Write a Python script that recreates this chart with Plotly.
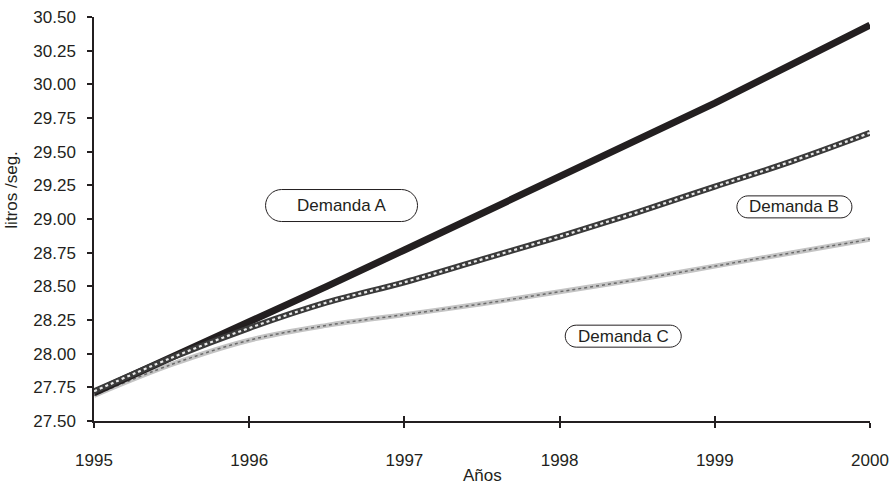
import plotly.graph_objects as go

years = [1995, 1995.5, 1996, 1996.5, 1997, 1997.5, 1998, 1998.5, 1999, 1999.5, 2000]
demanda_a = [27.71, 27.97, 28.23, 28.50, 28.77, 29.04, 29.31, 29.58, 29.86, 30.15, 30.44]
demanda_b = [27.72, 27.97, 28.19, 28.38, 28.53, 28.70, 28.87, 29.05, 29.24, 29.43, 29.64]
demanda_c = [27.69, 27.92, 28.10, 28.21, 28.29, 28.37, 28.46, 28.55, 28.65, 28.75, 28.85]
x_ticks = [1995, 1996, 1997, 1998, 1999, 2000]
y_ticks = [27.5 + 0.25 * i for i in range(13)]
labels = ["Demanda A", "Demanda B", "Demanda C"]
label_x = [1996.595, 1999.513, 1998.41]
label_y = [29.10, 29.09, 28.13]
label_w = [152, 115, 116]
label_h = [32, 22, 22]

FONT = "Liberation Sans, Arial, sans-serif"
INK = "#231f20"
FS = 17

fig = go.Figure()
# Demanda C (light gray dotted texture)
fig.add_trace(go.Scatter(x=years, y=demanda_c, mode="lines", line_shape="spline",
                         line=dict(color="#c4c4c4", width=5), showlegend=False, hoverinfo="skip"))
fig.add_trace(go.Scatter(x=years, y=demanda_c, mode="lines", line_shape="spline",
                         line=dict(color="#6a6a6a", width=1.5, dash="dot"), showlegend=False, hoverinfo="skip"))
# Demanda A (solid black)
fig.add_trace(go.Scatter(x=years, y=demanda_a, mode="lines",
                         line=dict(color=INK, width=7), showlegend=False, hoverinfo="skip"))
# Demanda B (checkered)
fig.add_trace(go.Scatter(x=years, y=demanda_b, mode="lines", line_shape="spline",
                         line=dict(color="#3a3a3a", width=6), showlegend=False, hoverinfo="skip"))
fig.add_trace(go.Scatter(x=years, y=demanda_b, mode="lines", line_shape="spline",
                         line=dict(color="#e8e8e8", width=2.2, dash="dot"), showlegend=False, hoverinfo="skip"))
# overlay axis for crossing x ticks
fig.add_trace(go.Scatter(x=[1995], y=[27.5], xaxis="x2", mode="markers",
                         marker=dict(opacity=0), showlegend=False, hoverinfo="skip"))

k = 0.5523
for lx, ly, w, h, txt in zip(label_x, label_y, label_w, label_h, labels):
    hw, hh = w / 2, h / 2
    r = hh
    p = (f"M {-hw + r},{-hh} L {hw - r},{-hh} "
         f"C {hw - r + k * r},{-hh} {hw},{-k * hh} {hw},0 "
         f"C {hw},{k * hh} {hw - r + k * r},{hh} {hw - r},{hh} "
         f"L {-hw + r},{hh} "
         f"C {-hw + r - k * r},{hh} {-hw},{k * hh} {-hw},0 "
         f"C {-hw},{-k * hh} {-hw + r - k * r},{-hh} {-hw + r},{-hh} Z")
    fig.add_shape(type="path", path=p, xref="x", yref="y",
                  xsizemode="pixel", ysizemode="pixel", xanchor=lx, yanchor=ly,
                  line=dict(color=INK, width=1), fillcolor="white")
    fig.add_annotation(x=lx, y=ly, xref="x", yref="y", text=txt, showarrow=False,
                       font=dict(family=FONT, size=FS, color=INK))

fig.add_annotation(text="Años", xref="paper", yref="paper", x=0.5, y=-0.136,
                   yanchor="middle", xanchor="center", showarrow=False,
                   font=dict(family=FONT, size=FS, color=INK))
fig.add_annotation(text="litros /seg.", xref="paper", yref="paper", x=-0.106, y=0.572,
                   textangle=-90, xanchor="center", yanchor="middle", showarrow=False,
                   font=dict(family=FONT, size=FS, color=INK))

fig.update_layout(
    width=894, height=485,
    margin=dict(l=94, r=24, t=17, b=64, autoexpand=False),
    paper_bgcolor="white", plot_bgcolor="white",
    font=dict(family=FONT, size=FS, color=INK),
    xaxis=dict(range=[1995, 2000], tickvals=x_ticks, ticktext=[str(v) for v in x_ticks],
               automargin=False,
               showgrid=False, zeroline=False, showline=True, linecolor=INK, linewidth=1.5,
               ticks="outside", ticklen=5, tickwidth=1.5, tickcolor=INK,
               ticklabelstandoff=18, tickfont=dict(family=FONT, size=FS, color=INK)),
    xaxis2=dict(range=[1995, 2000], overlaying="x", side="bottom", anchor="y",
                automargin=False,
                tickvals=x_ticks, showticklabels=False, showgrid=False, zeroline=False,
                showline=False, ticks="inside", ticklen=5, tickwidth=1.5, tickcolor=INK),
    yaxis=dict(range=[27.5, 30.5], tickvals=y_ticks, tickformat=".2f", automargin=False,
               showgrid=False, zeroline=False, showline=True, linecolor=INK, linewidth=1.5,
               ticks="outside", ticklen=5, tickwidth=1.5, tickcolor=INK,
               ticklabelstandoff=8, tickfont=dict(family=FONT, size=FS, color=INK)),
)

fig.write_html("out.html", config={"displayModeBar": False},
               post_script="document.body.style.margin='0';document.body.style.padding='0';")
